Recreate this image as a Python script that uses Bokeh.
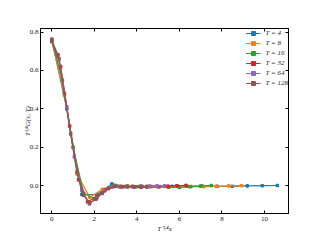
from bokeh.plotting import figure
from bokeh.models import (Range1d, FixedTicker, PrintfTickFormatter, LinearAxis,
                          ColumnDataSource, Whisker, TeeHead, Legend, LegendItem)
from bokeh.embed import file_html
from bokeh.resources import INLINE

# ---- data ----
labels = ["T = 4", "T = 8", "T = 16", "T = 32", "T = 64", "T = 128"]
colors = ["#1f77b4", "#ff7f0e", "#2ca02c", "#d62728", "#9467bd", "#8c564b"]

x_T4 = [0.0, 0.707, 1.414, 2.121, 2.828, 3.536, 4.243, 4.950, 5.657, 6.364, 7.071, 7.778, 8.485, 9.192, 9.899, 10.607]
y_T4 = [0.760, 0.400, -0.047, -0.047, 0.008, -0.004, -0.006, -0.005, -0.004, -0.004, -0.003, -0.004, -0.004, -0.002, -0.001, 0.000]
e_T4 = [0.010, 0.006, 0.004, 0.004, 0.004, 0.003, 0.003, 0.003, 0.003, 0.003, 0.003, 0.003, 0.003, 0.003, 0.003, 0.003]

x_T8 = [0.0, 0.595, 1.189, 1.784, 2.378, 2.973, 3.568, 4.162, 4.757, 5.351, 5.946, 6.541, 7.135, 7.730, 8.324, 8.919]
y_T8 = [0.758, 0.470, 0.060, -0.062, -0.020, 0.002, -0.004, -0.006, -0.005, -0.006, -0.006, -0.005, -0.006, -0.004, -0.002, -0.001]
e_T8 = [0.010, 0.006, 0.005, 0.005, 0.004, 0.004, 0.004, 0.004, 0.004, 0.004, 0.004, 0.004, 0.004, 0.004, 0.004, 0.004]

x_T16 = [0.0, 0.5, 1.0, 1.5, 2.0, 2.5, 3.0, 3.5, 4.0, 4.5, 5.0, 5.5, 6.0, 6.5, 7.0, 7.5]
y_T16 = [0.756, 0.550, 0.200, -0.040, -0.068, -0.022, -0.002, -0.005, -0.006, -0.007, -0.006, -0.009, -0.010, -0.006, -0.003, 0.000]
e_T16 = [0.010, 0.007, 0.005, 0.005, 0.005, 0.005, 0.005, 0.005, 0.005, 0.005, 0.005, 0.005, 0.005, 0.005, 0.005, 0.005]

x_T32 = [0.0, 0.420, 0.841, 1.261, 1.682, 2.102, 2.523, 2.943, 3.364, 3.784, 4.204, 4.625, 5.045, 5.466, 5.886, 6.307]
y_T32 = [0.758, 0.620, 0.310, 0.030, -0.085, -0.060, -0.022, -0.004, -0.006, -0.005, -0.008, -0.005, -0.006, -0.004, -0.001, 0.000]
e_T32 = [0.010, 0.007, 0.006, 0.006, 0.006, 0.006, 0.006, 0.006, 0.006, 0.006, 0.006, 0.006, 0.006, 0.006, 0.006, 0.006]

x_T64 = [0.0, 0.354, 0.707, 1.061, 1.414, 1.768, 2.121, 2.475, 2.828, 3.182, 3.536, 3.889, 4.243, 4.596, 4.950, 5.303]
y_T64 = [0.757, 0.660, 0.410, 0.150, -0.025, -0.095, -0.065, -0.028, -0.008, -0.007, -0.006, -0.008, -0.005, -0.004, -0.003, -0.002]
e_T64 = [0.011, 0.008, 0.007, 0.007, 0.007, 0.007, 0.007, 0.007, 0.007, 0.007, 0.007, 0.007, 0.007, 0.007, 0.007, 0.007]

x_T128 = [0.0, 0.297, 0.595, 0.892, 1.189, 1.487, 1.784, 2.081, 2.378, 2.676, 2.973, 3.270, 3.568, 3.865, 4.162, 4.459]
y_T128 = [0.755, 0.680, 0.480, 0.270, 0.070, -0.050, -0.090, -0.070, -0.040, -0.015, -0.004, -0.006, -0.005, -0.007, -0.005, -0.006]
e_T128 = [0.012, 0.009, 0.008, 0.008, 0.008, 0.008, 0.008, 0.008, 0.008, 0.008, 0.008, 0.008, 0.008, 0.008, 0.008, 0.008]

xs = [x_T4, x_T8, x_T16, x_T32, x_T64, x_T128]
ys = [y_T4, y_T8, y_T16, y_T32, y_T64, y_T128]
es = [e_T4, e_T8, e_T16, e_T32, e_T64, e_T128]

x_ticks = [0, 2, 4, 6, 8, 10]
y_ticks = [0.0, 0.2, 0.4, 0.6, 0.8]

FONT = "Liberation Serif"

p = figure(width=320, height=240, output_backend="svg", toolbar_location=None,
           x_range=Range1d(-0.53, 11.13), y_range=Range1d(-0.146, 0.819),
           min_border_left=40, min_border_right=32, min_border_top=28, min_border_bottom=27)
p.background_fill_color = "white"
p.border_fill_color = "white"
p.outline_line_color = "black"
p.outline_line_width = 1
p.grid.visible = False

p.xaxis.ticker = FixedTicker(ticks=x_ticks)
p.yaxis.ticker = FixedTicker(ticks=y_ticks)
p.yaxis.formatter = PrintfTickFormatter(format="%.1f")
p.xaxis.axis_label = "T\u207b\u00b9\u2044\u2074x"
p.yaxis.axis_label = "T\u00b9\u2044\u2074G(x, T)"

for ax in [p.xaxis[0], p.yaxis[0]]:
    ax.major_tick_in = 3
    ax.major_tick_out = 0
    ax.minor_tick_line_color = None
    ax.major_label_text_font = FONT
    ax.major_label_text_font_size = "7px"
    ax.major_label_text_color = "#222222"
    ax.axis_label_text_font = FONT
    ax.axis_label_text_font_size = "7px"
    ax.axis_label_text_font_style = "italic"
    ax.axis_label_text_color = "#222222"
    ax.axis_line_color = "black"
p.xaxis.major_label_standoff = 3
p.xaxis.axis_label_standoff = 1
p.yaxis.major_label_standoff = 2
p.yaxis.axis_label_standoff = -5

top = LinearAxis(ticker=FixedTicker(ticks=x_ticks), major_tick_in=3, major_tick_out=0,
                 minor_tick_line_color=None, major_label_text_alpha=0,
                 major_label_text_font_size="1px", axis_line_color="black")
right = LinearAxis(ticker=FixedTicker(ticks=y_ticks), major_tick_in=3, major_tick_out=0,
                   minor_tick_line_color=None, major_label_text_alpha=0,
                   major_label_text_font_size="1px", axis_line_color="black")
p.add_layout(top, "above")
p.add_layout(right, "right")

items = []
for lab, c, x, y, e in zip(labels, colors, xs, ys, es):
    src = ColumnDataSource(dict(x=x, y=y, lo=[a - b for a, b in zip(y, e)], hi=[a + b for a, b in zip(y, e)]))
    ln = p.line("x", "y", source=src, line_color=c, line_width=1.2)
    sc = p.scatter("x", "y", source=src, marker="square", size=2.5, fill_color=c, line_color=c)
    w = Whisker(base="x", lower="lo", upper="hi", source=src, dimension="height", line_color=c, line_width=0.8,
                upper_head=TeeHead(size=3, line_color=c, line_width=0.8),
                lower_head=TeeHead(size=3, line_color=c, line_width=0.8))
    p.add_layout(w)
    items.append(LegendItem(label=lab, renderers=[ln, sc]))

legend = Legend(items=items, location="top_right", margin=0, padding=5, spacing=0,
                glyph_width=15, glyph_height=10, label_height=9, label_standoff=5,
                label_text_font=FONT, label_text_font_size="7px", label_text_font_style="italic",
                label_text_color="#222222", border_line_color=None, background_fill_alpha=0)
p.add_layout(legend)

open("out.html", "w").write(file_html(p, INLINE))
